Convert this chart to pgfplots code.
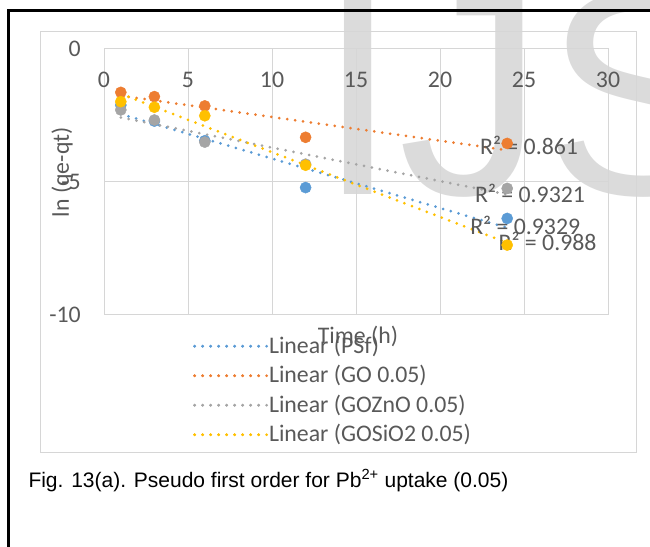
\documentclass[border=0pt]{standalone}
\usepackage{fontspec}
\setmainfont{Carlito}
\newfontfamily\arialfont{Liberation Sans}
\usepackage{pgfplots}
\usepackage{pgfplotstable}
\pgfplotsset{compat=1.18}

\definecolor{psfblue}{HTML}{5B9BD5}
\definecolor{goorange}{HTML}{ED7D31}
\definecolor{znogray}{HTML}{A5A5A5}
\definecolor{sioyellow}{HTML}{FFC000}
\definecolor{textgray}{HTML}{595959}
\definecolor{gridc}{HTML}{D6D6D6}
\definecolor{wm}{HTML}{DBDBDB}

\newcommand\chartfont{\fontsize{23.8}{28}\selectfont}

% ln(qe-qt) against time (h) for each membrane
\pgfplotstableread{
t y
1 -2.11
3 -2.71
6 -3.45
12 -5.21
24 -6.37
}\psf
\pgfplotstableread{
t y
1 -1.63
3 -1.79
6 -2.14
12 -3.32
24 -3.55
}\goo
\pgfplotstableread{
t y
1 -2.29
3 -2.67
6 -3.50
12 -4.33
24 -5.24
}\gozno
\pgfplotstableread{
t y
1 -1.98
3 -2.19
6 -2.51
12 -4.37
24 -7.37
}\gosio

\tikzset{trend/.style={line width=3pt, line cap=round, dash pattern=on 0pt off 8pt}}

\begin{document}
\begin{tikzpicture}
\path[use as bounding box] (0pt,0pt) rectangle (650pt,546pt);
\clip (0pt,0pt) rectangle (650pt,546pt);

% journal watermark
\node[anchor=base west, inner sep=0pt, text=wm, font=\arialfont\fontsize{292}{292}\selectfont] at (317pt,351pt) {IJSER};

% chart area
\draw[line width=1pt, gridc] (40pt,93pt) rectangle (636pt,514pt);

\begin{axis}[
  at={(104pt,231pt)}, anchor=south west,
  scale only axis, width=504pt, height=266pt,
  xmin=0, xmax=30, ymin=-10, ymax=0,
  xtick={0,5,10,15,20,25,30}, ytick={-10,-5,0},
  grid=major,
  major grid style={draw=gridc, line width=1pt},
  axis line style={draw=gridc, line width=1pt},
  major tick length=0pt,
  /pgf/number format/assume math mode=true,
  ticklabel style={font=\chartfont, text=textgray},
  xticklabel pos=upper,
  xticklabel style={anchor=center, yshift=-31pt},
  yticklabel style={anchor=east, inner sep=0pt, xshift=-23pt},
  xlabel={Time (h)}, ylabel={ln (qe-qt)},
  xlabel style={at={(axis description cs:0.504,-0.079)}, anchor=center, font=\chartfont, text=textgray},
  ylabel style={at={(axis description cs:-0.083,0.537)}, anchor=center, font=\chartfont, text=textgray},
  legend style={at={(axis description cs:0.1766,-0.062)}, anchor=north west,
    draw=none, fill=none, inner sep=0pt, outer sep=0pt, row sep=0pt,
    font=\chartfont, text=textgray,
    nodes={inner sep=0pt, text height=22pt, text depth=7.5pt}},
  legend cell align=left,
  legend image code/.code={\path (0pt,0pt) -- (73pt,0pt);\draw[#1] (0pt,0pt) -- (66pt,0pt);},
]
\addplot[only marks, mark=*, mark size=5.6pt, color=psfblue, forget plot] table[x=t,y=y]{\psf};
\addplot[only marks, mark=*, mark size=5.6pt, color=goorange, forget plot] table[x=t,y=y]{\goo};
\addplot[only marks, mark=*, mark size=5.6pt, color=znogray, forget plot] table[x=t,y=y]{\gozno};
\addplot[only marks, mark=*, mark size=5.6pt, color=sioyellow, forget plot] table[x=t,y=y]{\gosio};

\addplot[trend, color=psfblue] table[x=t, y={create col/linear regression={y=y}}]{\psf};
\addlegendentry{Linear (PSf)}
\addplot[trend, color=goorange] table[x=t, y={create col/linear regression={y=y}}]{\goo};
\addlegendentry{Linear (GO 0.05)}
\addplot[trend, color=znogray] table[x=t, y={create col/linear regression={y=y}}]{\gozno};
\addlegendentry{Linear (GOZnO 0.05)}
\addplot[trend, color=sioyellow] table[x=t, y={create col/linear regression={y=y}}]{\gosio};
\addlegendentry{Linear (GOSiO2 0.05)}

\node[anchor=base west, inner sep=0pt, text=textgray, font=\chartfont] at (axis cs:22.38,-3.985) {R² = 0.861};
\node[anchor=base west, inner sep=0pt, text=textgray, font=\chartfont] at (axis cs:22.08,-5.78) {R² = 0.9321};
\node[anchor=base west, inner sep=0pt, text=textgray, font=\chartfont] at (axis cs:21.79,-6.955) {R² = 0.9329};
\node[anchor=base west, inner sep=0pt, text=textgray, font=\chartfont] at (axis cs:23.48,-7.58) {R² = 0.988};
\end{axis}

% figure frame and caption
\draw[line width=2.7pt] (8.2pt,-10pt) -- (8.2pt,535.7pt) -- (670pt,535.7pt);
\node[anchor=base west, inner sep=0pt, font=\arialfont\fontsize{21}{25}\selectfont] at (28.3pt,59pt)
  {Fig. 13(a). Pseudo first order for Pb\textsuperscript{2+} uptake (0.05)};
\end{tikzpicture}
\end{document}
